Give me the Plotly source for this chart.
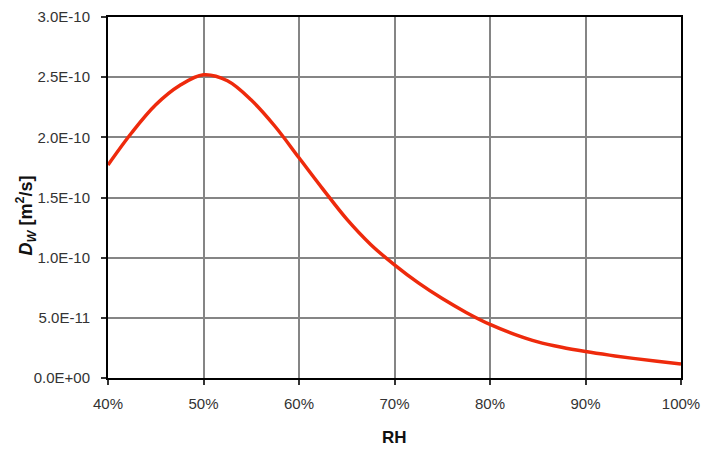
import plotly.graph_objects as go

rh = [40, 42.5, 45, 47.5, 50, 52.5, 55, 57.5, 60, 62.5, 65, 67.5, 70,
      72.5, 75, 77.5, 80, 82.5, 85, 87.5, 90, 92.5, 95, 97.5, 100]
dw = [1.77e-10, 2.04e-10, 2.27e-10, 2.43e-10, 2.52e-10, 2.47e-10, 2.31e-10, 2.09e-10,
      1.83e-10, 1.57e-10, 1.32e-10, 1.11e-10, 0.94e-10, 0.79e-10, 0.66e-10, 0.545e-10,
      0.445e-10, 0.365e-10, 0.30e-10, 0.255e-10, 0.22e-10, 0.19e-10, 0.163e-10,
      0.139e-10, 0.117e-10]

x_ticks = [40, 50, 60, 70, 80, 90, 100]
x_labels = ["40%", "50%", "60%", "70%", "80%", "90%", "100%"]
y_ticks = [0, 0.5e-10, 1.0e-10, 1.5e-10, 2.0e-10, 2.5e-10, 3.0e-10]
y_labels = ["0.0E+00", "5.0E-11", "1.0E-10", "1.5E-10", "2.0E-10", "2.5E-10", "3.0E-10"]

fig = go.Figure()
fig.add_trace(go.Scatter(x=rh, y=dw, mode="lines",
                         line=dict(color="#ee2a0c", width=3.5, shape="spline", smoothing=1.0),
                         showlegend=False, hoverinfo="skip"))

font = "Liberation Sans, Arial, sans-serif"
axis_common = dict(showgrid=True, gridcolor="#858585", gridwidth=2,
                   showline=True, linecolor="black", linewidth=2, mirror=True,
                   ticks="outside", ticklen=5, tickwidth=1.5, tickcolor="#333333",
                   zeroline=False, automargin=False, ticklabeloverflow="allow",
                   tickfont=dict(family=font, size=15, color="#333333"))
fig.update_layout(
    width=703, height=451,
    margin=dict(l=108, r=22, t=17, b=73),
    paper_bgcolor="white", plot_bgcolor="white",
    font=dict(family=font, size=15, color="#333333"),
    xaxis=dict(range=[40, 100], tickvals=x_ticks, ticktext=x_labels,
               ticklabelstandoff=6, **axis_common),
    yaxis=dict(range=[0, 3.0e-10], tickvals=y_ticks, ticktext=y_labels,
               ticklabelstandoff=8, **axis_common),
    annotations=[
        dict(text="<b>RH</b>", xref="paper", yref="paper", x=0.5, y=0,
             xanchor="center", yanchor="middle", yshift=-59, showarrow=False,
             font=dict(family=font, size=17, color="#111111")),
        dict(text="<b><i>D</i><sub><i>W</i></sub> [m<sup>2</sup>/s]</b>",
             xref="paper", yref="paper", x=0, y=0.5, xanchor="center", yanchor="middle",
             xshift=-82, yshift=-18, textangle=-90, showarrow=False,
             font=dict(family=font, size=18, color="#111111")),
    ],
)

fig.write_html("out.html", config={"displayModeBar": False},
               post_script="document.body.style.margin='0';document.body.style.overflow='hidden';")
